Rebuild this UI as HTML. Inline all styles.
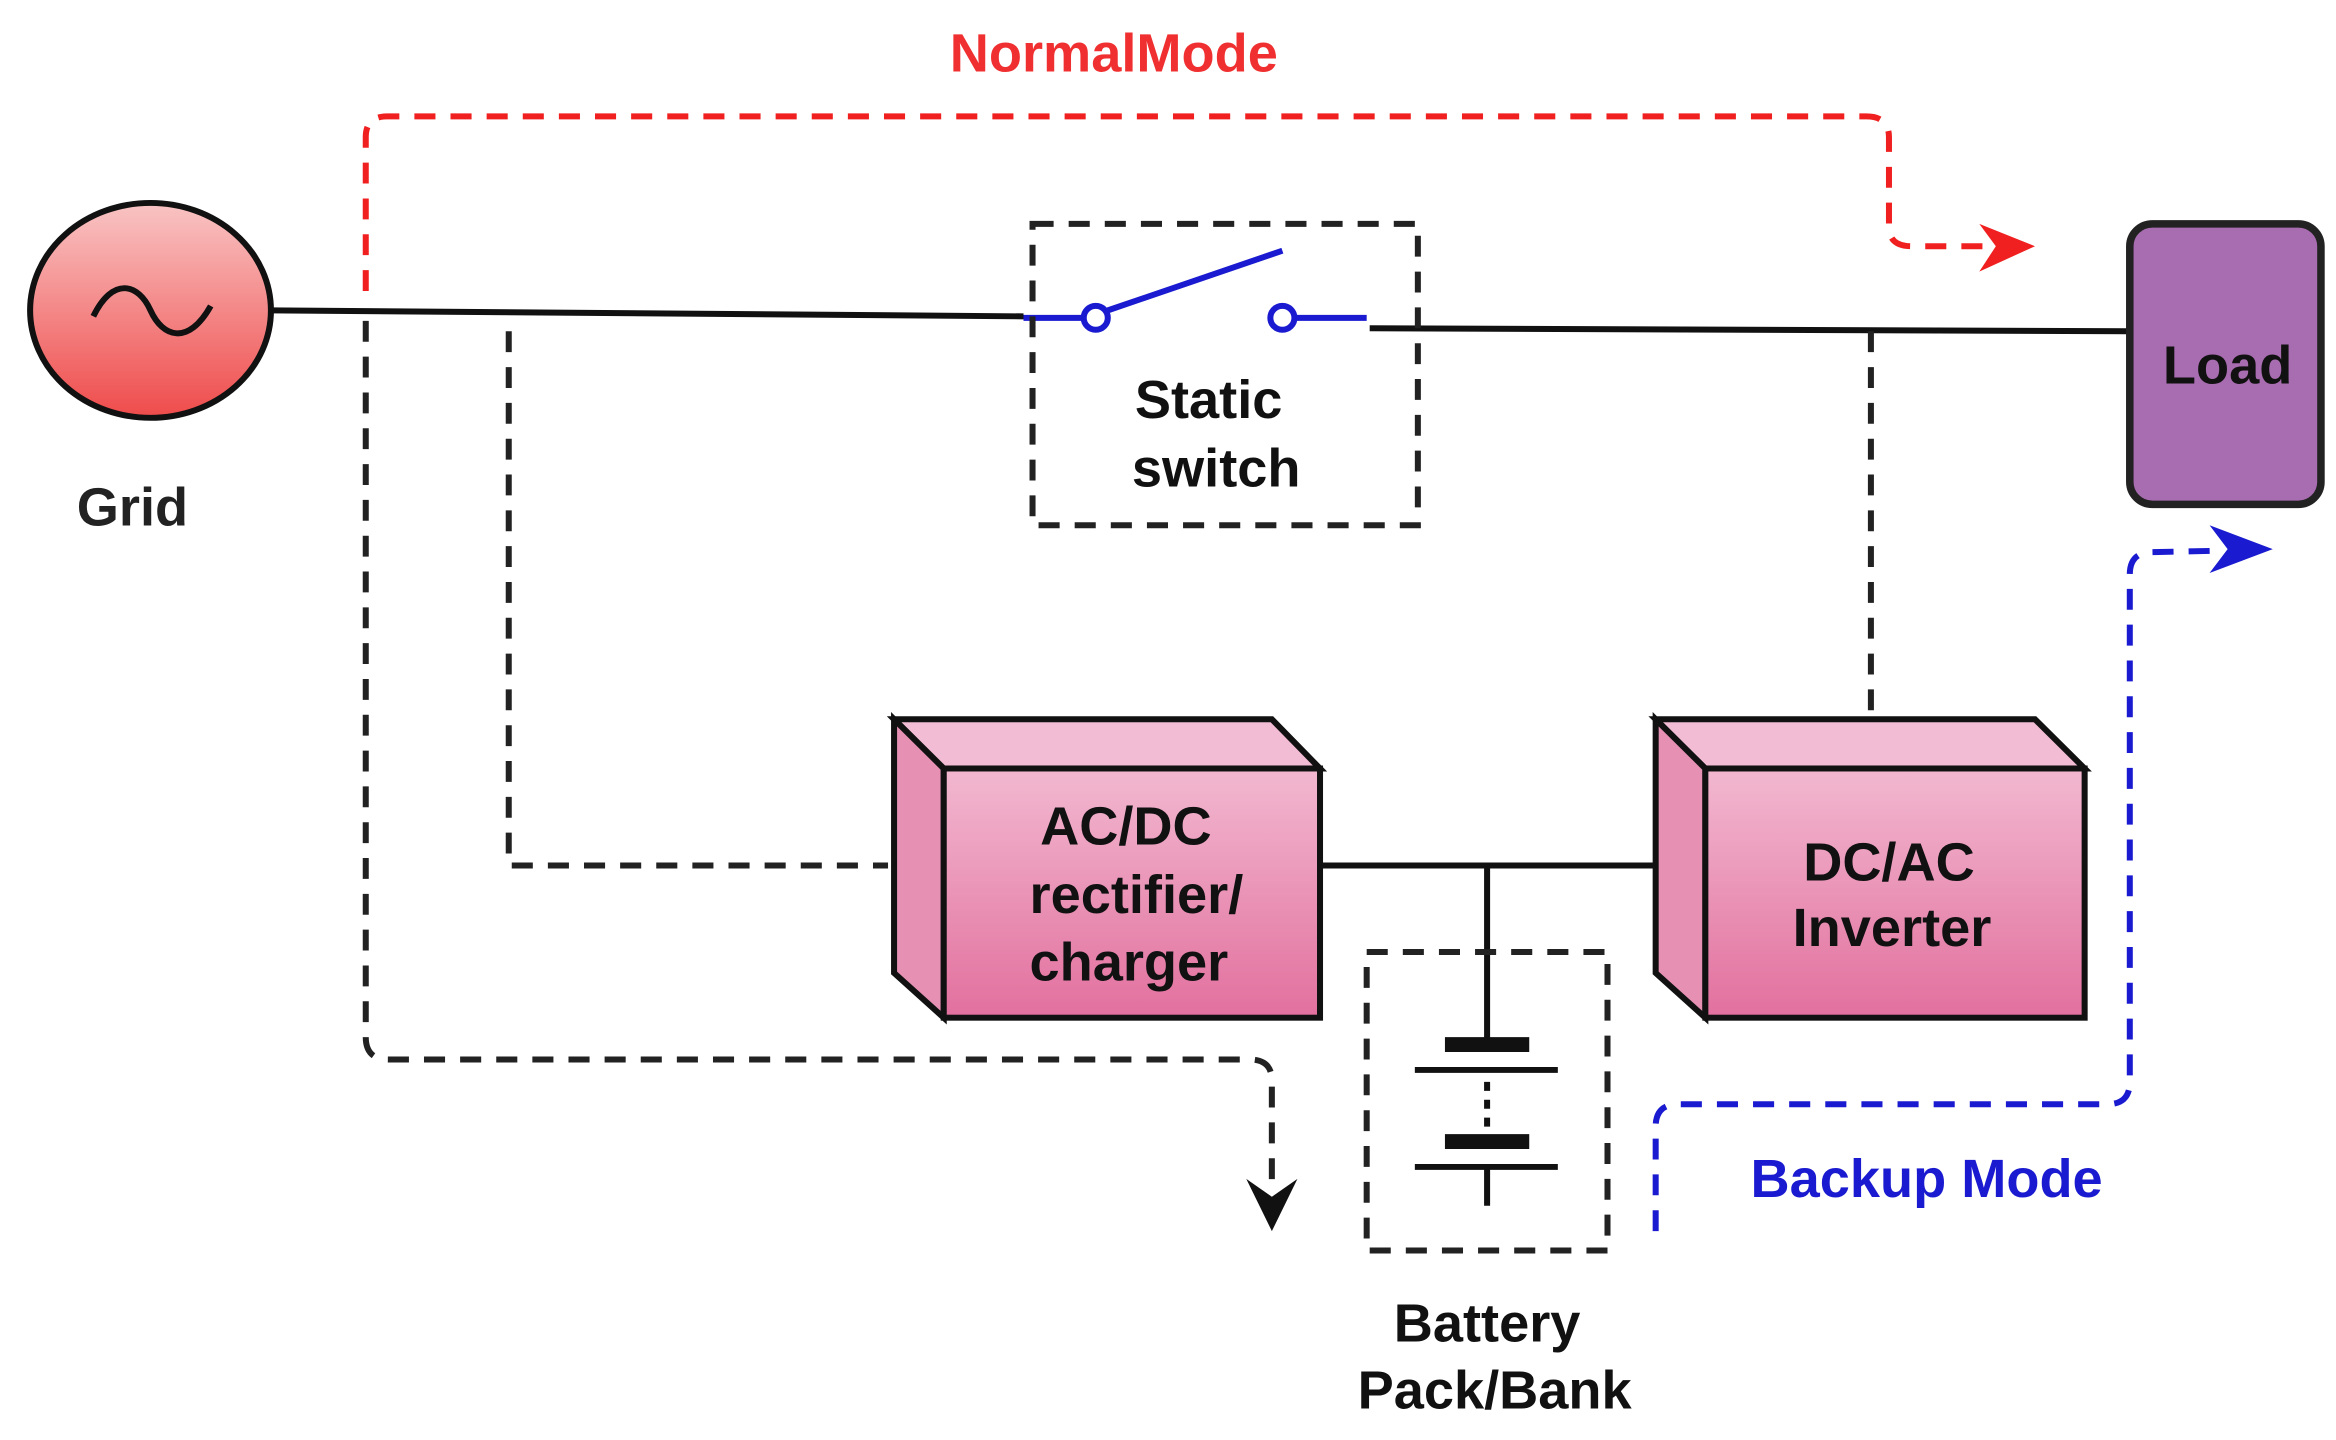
<!DOCTYPE html>
<html><head><meta charset="utf-8"><style>html,body{margin:0;padding:0;background:#fff}svg{display:block}</style></head>
<body>
<svg width="2336" height="1440" viewBox="0 0 1552 965" preserveAspectRatio="none" xmlns="http://www.w3.org/2000/svg" font-family="Liberation Sans, sans-serif" font-weight="bold">
<defs>
<linearGradient id="gr" x1="0" y1="0" x2="0" y2="1"><stop offset="0" stop-color="#f9c4c4"/><stop offset="1" stop-color="#ef4b4b"/></linearGradient>
<linearGradient id="pk" x1="0" y1="0" x2="0" y2="1"><stop offset="0" stop-color="#f2b8d0"/><stop offset="1" stop-color="#e2709e"/></linearGradient>
</defs>
<rect width="1552" height="965" fill="#fff"/>
<!-- grid -->
<ellipse cx="100" cy="208" rx="80" ry="72" fill="url(#gr)" stroke="#111" stroke-width="4"/>
<path d="M62 212 C75 185 92 190 100 208 C108 226 125 232 140 205" fill="none" stroke="#111" stroke-width="4"/>
<text x="88" y="352" font-size="36" text-anchor="middle" fill="#222">Grid</text>
<text x="740" y="48" font-size="36" text-anchor="middle" fill="#f03030">NormalMode</text>
<!-- red dashed -->
<path d="M243 195 L243 92 Q243 78 257 78 L1240 78 Q1255 78 1255 92 L1255 152 Q1255 165 1270 165 L1320 165" fill="none" stroke="#f02020" stroke-width="4" stroke-dasharray="14 10"/>
<path d="M1315 150 L1352 165 L1315 182 L1326 165 Z" fill="#f02020"/>
<!-- main lines -->
<path d="M180 208 L680 212" stroke="#111" stroke-width="4" fill="none"/>
<path d="M680 213 L720 213 M736 208 L852 168 M860 213 L908 213" stroke="#1a1ad0" stroke-width="4" fill="none"/>
<circle cx="728" cy="213" r="8" fill="#fff" stroke="#1a1ad0" stroke-width="4"/>
<circle cx="852" cy="213" r="8" fill="#fff" stroke="#1a1ad0" stroke-width="4"/>
<path d="M910 220 L1415 222" stroke="#111" stroke-width="4" fill="none"/>
<rect x="686" y="150" width="256" height="202" fill="none" stroke="#222" stroke-width="4" stroke-dasharray="14 10"/>
<text x="803" y="280" font-size="36" text-anchor="middle" fill="#111">Static</text>
<text x="808" y="326" font-size="36" text-anchor="middle" fill="#111">switch</text>
<!-- load -->
<rect x="1415" y="150" width="127" height="188" rx="15" fill="#a86cb0" stroke="#222" stroke-width="5"/>
<text x="1480" y="257" font-size="36" text-anchor="middle" fill="#111">Load</text>
<!-- black dashed -->
<path d="M338 222 L338 580 L590 580" fill="none" stroke="#222" stroke-width="4" stroke-dasharray="14 10"/>
<path d="M243 215 L243 695 Q243 710 258 710 L830 710 Q845 710 845 724 L845 800" fill="none" stroke="#222" stroke-width="4" stroke-dasharray="14 10"/>
<path d="M828 790 L845 825 L862 790 L845 802 Z" fill="#111"/>
<path d="M1243 222 L1243 482" fill="none" stroke="#222" stroke-width="4" stroke-dasharray="14 10"/>
<!-- AC/DC box -->
<polygon points="594,482 845,482 877,515 627,515" fill="#f2bcd4" stroke="#111" stroke-width="4"/>
<polygon points="594,482 627,515 627,682 594,652" fill="#e690b4" stroke="#111" stroke-width="4"/>
<rect x="627" y="515" width="250" height="167" fill="url(#pk)" stroke="#111" stroke-width="4"/>
<text x="748" y="566" font-size="36" text-anchor="middle" fill="#111">AC/DC</text>
<text x="755" y="612" font-size="36" text-anchor="middle" fill="#111">rectifier/</text>
<text x="750" y="657" font-size="36" text-anchor="middle" fill="#111">charger</text>
<!-- DC/AC box -->
<polygon points="1100,482 1352,482 1385,515 1133,515" fill="#f2bcd4" stroke="#111" stroke-width="4"/>
<polygon points="1100,482 1133,515 1133,682 1100,652" fill="#e690b4" stroke="#111" stroke-width="4"/>
<rect x="1133" y="515" width="252" height="167" fill="url(#pk)" stroke="#111" stroke-width="4"/>
<text x="1255" y="590" font-size="36" text-anchor="middle" fill="#111">DC/AC</text>
<text x="1257" y="634" font-size="36" text-anchor="middle" fill="#111">Inverter</text>
<!-- bus -->
<path d="M877 580 L1100 580 M988 580 L988 700" stroke="#111" stroke-width="4" fill="none"/>
<!-- battery -->
<path d="M960 700 L1016 700 M960 765 L1016 765" stroke="#111" stroke-width="10"/>
<path d="M940 717 L1035 717 M940 782 L1035 782 M988 782 L988 808" stroke="#111" stroke-width="4"/>
<path d="M988 725 L988 757" stroke="#111" stroke-width="4" stroke-dasharray="6 6"/>
<rect x="908" y="638" width="160" height="200" fill="none" stroke="#222" stroke-width="4" stroke-dasharray="14 10"/>
<text x="988" y="899" font-size="36" text-anchor="middle" fill="#111">Battery</text>
<text x="993" y="944" font-size="36" text-anchor="middle" fill="#111">Pack/Bank</text>
<!-- blue dashed -->
<path d="M1100 825 L1100 755 Q1100 740 1115 740 L1400 740 Q1415 740 1415 725 L1415 385 Q1415 370 1430 370 L1478 369" fill="none" stroke="#1a1ad0" stroke-width="4" stroke-dasharray="14 10"/>
<path d="M1468 352 L1510 368 L1468 384 L1480 368 Z" fill="#1a1ad0"/>
<text x="1280" y="802" font-size="36" text-anchor="middle" fill="#1a1ad0">Backup Mode</text>
</svg>
</body></html>
